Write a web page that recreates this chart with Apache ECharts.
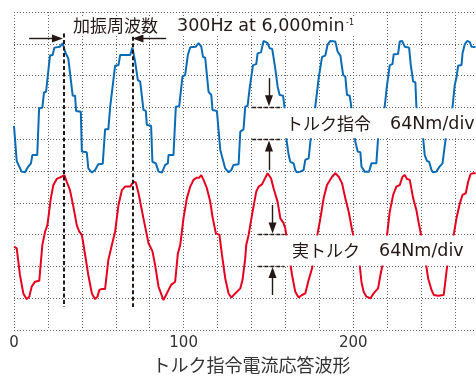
<!DOCTYPE html>
<html>
<head>
<meta charset="utf-8">
<script src="https://cdn.jsdelivr.net/npm/echarts@6/dist/echarts.min.js"></script>
<style>html,body{margin:0;padding:0;background:#fff}#c{width:476px;height:376px}</style>
</head>
<body>
<div id="c"></div>
<script>
// x: time axis units (0..280), y: divisions (0..10, 64 Nm/div)
const xTickLabels = [0, 100, 200];
const xAxisTitle = 'トルク指令電流応答波形';
const seriesNames = ['トルク指令', '実トルク'];

const torqueCommand = [
[0,6.42],[1.6,5.31],[2.5,5.29],[4.5,4.98],[6.5,4.96],[8.4,5.14],[10.0,5.24],[10.8,5.50],[13.7,5.50],[14.8,6.97],[16.7,6.99],[17.7,7.47],[18.9,7.49],[21.2,8.63],[22.8,8.65],[23.8,8.88],[27.1,8.91],[28.7,9.02],[30.1,8.75],[32.0,8.54],[34.6,7.37],[36.0,7.37],[36.6,6.89],[39.4,6.86],[40.0,5.61],[42.9,5.59],[43.8,5.08],[45.9,4.95],[47.8,5.03],[49.7,5.21],[52.3,5.23],[53.7,6.31],[55.6,6.31],[56.7,7.02],[59.6,8.31],[61.6,8.33],[62.6,8.65],[68.5,8.65],[69.8,8.88],[71.4,8.44],[73.0,7.86],[74.4,7.81],[76.3,6.92],[77.7,6.89],[78.3,6.45],[80.8,6.42],[81.6,5.29],[83.6,5.24],[85.2,4.98],[87.2,4.95],[89.1,5.19],[90.7,5.24],[91.1,5.50],[94.0,5.50],[95.4,7.02],[97.4,7.04],[99.3,7.97],[100.9,8.02],[102.5,8.65],[103.9,8.89],[107.2,8.91],[108.8,9.02],[110.4,8.91],[111.4,8.59],[112.7,8.56],[114.7,7.49],[116.3,7.39],[117.0,6.92],[119.6,6.89],[121.6,5.66],[122.6,5.61],[124.5,5.08],[126.5,4.96],[128.1,5.03],[129.4,5.19],[132.4,5.21],[133.4,6.24],[135.3,6.31],[136.3,7.02],[137.7,7.05],[138.9,7.60],[139.9,7.97],[140.9,8.33],[142.8,8.36],[143.6,8.70],[145.6,8.73],[147.1,9.09],[148.1,9.12],[149.5,9.02],[150.7,8.86],[152.2,8.84],[154.0,8.23],[155.4,7.65],[156.6,7.39],[158.6,7.37],[159.5,6.99],[160.5,6.03],[161.9,5.50],[162.9,5.29],[164.8,5.24],[165.8,5.03],[166.8,4.96],[168.8,4.98],[170.7,5.03],[171.7,5.35],[173.7,5.40],[174.7,5.92],[177.6,7.02],[179.6,7.92],[180.6,7.97],[181.6,8.59],[183.5,8.63],[184.9,8.98],[186.5,9.09],[189.4,9.07],[190.8,8.75],[192.4,8.63],[194.0,8.02],[195.3,7.97],[196.3,7.39],[197.9,7.37],[198.9,6.99],[201.2,5.92],[202.6,5.61],[204.2,5.59],[204.8,5.14],[206.7,4.98],[209.3,4.98],[210.7,5.24],[213.6,5.24],[214.6,6.03],[218.5,7.02],[219.9,7.70],[221.5,8.33],[223.1,8.36],[223.8,8.67],[226.4,8.68],[227.4,9.07],[228.8,9.09],[230.3,8.91],[232.9,8.88],[233.9,8.33],[235.3,7.81],[236.6,7.79],[237.2,7.02],[241.2,6.03],[242.1,5.50],[243.5,5.31],[244.7,5.29],[246.1,5.03],[247.1,4.96],[249.0,4.98],[250.9,5.14],[252.6,5.24],[254.5,6.03],[258.5,7.02],[259.8,7.70],[260.8,7.93],[261.8,8.31],[263.8,8.33],[264.4,8.70],[265.7,8.98],[267.1,9.09],[268.7,9.05],[269.7,8.91],[270.7,8.96],[272.1,8.90]
];

const actualTorque = [
[0,2.62],[1.6,2.57],[3.5,1.73],[5.5,1.15],[7.5,0.97],[9.0,1.05],[10.4,1.36],[12.4,1.52],[14.9,1.55],[16.7,2.67],[18.3,3.09],[19.7,3.30],[21.7,4.14],[23.2,4.56],[25.2,4.75],[28.1,4.82],[29.7,4.87],[31.1,4.66],[33.0,4.40],[35.0,3.88],[37.0,3.30],[38.5,3.09],[40.0,2.99],[41.3,2.57],[43.8,1.73],[45.9,1.15],[47.8,0.97],[49.2,1.05],[50.3,1.26],[51.8,1.29],[53.7,1.29],[55.6,2.20],[57.7,2.67],[59.6,3.09],[61.6,3.93],[63.6,4.40],[65.5,4.51],[68.5,4.51],[70.4,4.66],[71.8,4.64],[73.4,4.30],[76.3,3.51],[79.3,2.73],[81.6,2.48],[83.2,2.04],[85.2,1.36],[88.1,0.94],[90.1,1.15],[92.6,1.42],[95.0,1.52],[96.6,2.41],[98.0,2.67],[99.9,3.51],[101.9,4.14],[103.9,4.51],[105.8,4.72],[107.8,4.79],[109.2,4.79],[110.4,4.87],[111.7,4.72],[113.7,4.46],[115.7,4.03],[117.0,3.56],[119.0,3.04],[121.1,2.99],[122.6,2.36],[124.5,1.63],[126.5,1.15],[128.1,1.02],[130.4,1.15],[133.4,1.31],[134.7,1.57],[136.3,2.25],[136.9,2.67],[138.3,2.99],[140.3,3.62],[142.8,4.35],[144.2,4.51],[146.2,4.58],[147.5,4.72],[149.5,4.93],[151.5,4.77],[153.0,4.46],[155.4,4.03],[157.0,3.51],[158.9,3.36],[159.9,3.20],[163.9,1.73],[165.8,1.20],[167.8,1.02],[169.8,1.10],[171.7,1.15],[173.7,1.57],[175.7,1.94],[178.6,2.93],[180.6,3.51],[182.5,4.14],[184.5,4.56],[187.5,4.82],[189.4,4.93],[191.4,4.82],[193.4,4.61],[195.3,4.14],[197.3,3.72],[199.3,3.14],[200.2,2.93],[203.8,2.04],[204.8,1.52],[206.1,1.20],[207.7,1.05],[210.1,1.00],[212.0,1.15],[214.6,1.31],[216.0,1.73],[217.2,2.04],[219.9,2.99],[221.5,3.72],[223.5,4.25],[225.4,4.51],[227.4,4.56],[229.0,4.82],[230.3,4.87],[231.7,4.75],[233.3,4.72],[235.3,4.14],[237.2,3.77],[238.8,3.30],[240.2,2.93],[243.1,1.99],[244.1,1.63],[246.1,1.26],[247.5,1.10],[250.0,1.08],[253.3,1.10],[255.3,1.99],[259.2,2.99],[260.8,3.51],[262.8,3.98],[264.4,4.25],[266.3,4.30],[267.7,4.66],[269.1,4.90],[270.7,4.93],[272.2,4.93]
];

// annotation anchors (data units)
const periodMarks = [29.4, 69.8];

const INK = '#231815';
const CJK = '"Noto Sans CJK JP"';
const LAT = '"DejaVu Sans"';

const chart = echarts.init(document.getElementById('c'), null, {renderer: 'canvas'});

function arrow(x1, y1, x2, y2) {
  return [
    {coord: [x1, y1], symbol: 'none', lineStyle: {color: INK, width: 1.4, type: 'solid'}},
    {coord: [x2, y2], symbol: 'triangle', symbolSize: [8, 11], lineStyle: {color: INK, width: 1.4, type: 'solid'}}
  ];
}
function dash(x1, y1, x2, y2, w, d) {
  return [
    {coord: [x1, y1], symbol: 'none', lineStyle: {color: INK, width: w, type: d}},
    {coord: [x2, y2], symbol: 'none', lineStyle: {color: INK, width: w, type: d}}
  ];
}

const option = {
  animation: false,
  backgroundColor: '#fff',
  grid: {left: 14, right: -13, top: 12, bottom: 46, containLabel: false, outerBoundsMode: 'none'},
  xAxis: {
    type: 'value', min: 0, max: 280, interval: 20,
    axisLine: {show: false}, axisTick: {show: false},
    axisLabel: {
      margin: 6, color: '#333', fontSize: 15, fontFamily: 'DejaVu Sans',
      formatter: v => xTickLabels.includes(v) ? String(v) : ''
    },
    splitLine: {show: true, lineStyle: {color: '#666', width: 1, type: [1, 2]}},
    name: xAxisTitle, nameLocation: 'middle', nameGap: 25,
    nameTextStyle: {fontSize: 18, fontFamily: 'Noto Sans CJK JP', color: '#333', align: 'center'}
  },
  yAxis: {
    type: 'value', min: 0, max: 10, interval: 1,
    axisLine: {show: false}, axisTick: {show: false}, axisLabel: {show: false},
    splitLine: {show: true, lineStyle: {color: '#666', width: 1, type: [1, 2]}}
  },
  series: [
    {
      name: seriesNames[0], type: 'line', data: torqueCommand, symbol: 'none', z: 3,
      lineStyle: {color: '#0b6cb6', width: 2}, itemStyle: {color: '#0b6cb6'}
    },
    {
      name: seriesNames[1], type: 'line', data: actualTorque, symbol: 'none', z: 3,
      lineStyle: {color: '#e5001f', width: 2}, itemStyle: {color: '#e5001f'}
    },
    {
      name: 'annotations', type: 'line', data: [], symbol: 'none', silent: true,
      markArea: {
        z: 10, silent: true,
        itemStyle: {color: '#fff', borderWidth: 0},
        data: [
          [{coord: [139.6, 6.03]}, {coord: [280, 6.97]}],
          [{coord: [141.9, 2.03]}, {coord: [280, 2.97]}]
        ]
      },
      markLine: {
        z: 12, silent: true, animation: false,
        label: {show: false},
        symbol: ['none', 'none'],
        data: [
          dash(periodMarks[0], 9.32, periodMarks[0], 0.72, 2, [4, 2.5]),
          dash(periodMarks[1], 9.22, periodMarks[1], 0.72, 2, [4, 2.5]),
          arrow(8.9, 9.17, 25.6, 9.17),
          arrow(89.7, 9.17, 73.05, 9.17),
          dash(140.4, 7, 157.6, 7, 1.3, [4, 2]),
          dash(140.4, 6, 157.6, 6, 1.3, [4, 2]),
          arrow(150.3, 7.92, 150.3, 7.21),
          arrow(150.3, 5.03, 150.3, 5.79),
          dash(144.0, 3, 159.3, 3, 1.3, [4, 2]),
          dash(144.0, 2, 159.3, 2, 1.3, [4, 2]),
          arrow(152.4, 3.93, 152.4, 3.21),
          arrow(152.4, 1.10, 152.4, 1.81)
        ]
      }
    }
  ],
  graphic: [
    {type: 'rect', z: 50, silent: true, shape: {x: 70, y: 16, width: 286, height: 19}, style: {fill: '#fff'}},
    {type: 'text', z: 51, x: 73, y: 26, style: {text: '加振周波数', font: '17px ' + CJK, fill: INK, align: 'left', verticalAlign: 'middle'}},
    {type: 'text', z: 51, x: 177, y: 26.5, style: {text: '300Hz at 6,000min', font: '17.5px ' + LAT, fill: INK, align: 'left', verticalAlign: 'middle'}},
    {type: 'text', z: 51, x: 346, y: 22.5, style: {text: '-1', font: '8px ' + LAT, fill: INK, align: 'left', verticalAlign: 'middle'}},
    {type: 'text', z: 51, x: 286, y: 123.5, style: {text: 'トルク指令', font: '17px ' + CJK, fill: INK, align: 'left', verticalAlign: 'middle'}},
    {type: 'text', z: 51, x: 390, y: 124, style: {text: '64Nm/div', font: '17.5px ' + LAT, fill: INK, align: 'left', verticalAlign: 'middle'}},
    {type: 'text', z: 51, x: 292, y: 251, style: {text: '実トルク', font: '17px ' + CJK, fill: INK, align: 'left', verticalAlign: 'middle'}},
    {type: 'text', z: 51, x: 379, y: 251.5, style: {text: '64Nm/div', font: '17.5px ' + LAT, fill: INK, align: 'left', verticalAlign: 'middle'}}
  ]
};
chart.setOption(option);
</script>
</body>
</html>
